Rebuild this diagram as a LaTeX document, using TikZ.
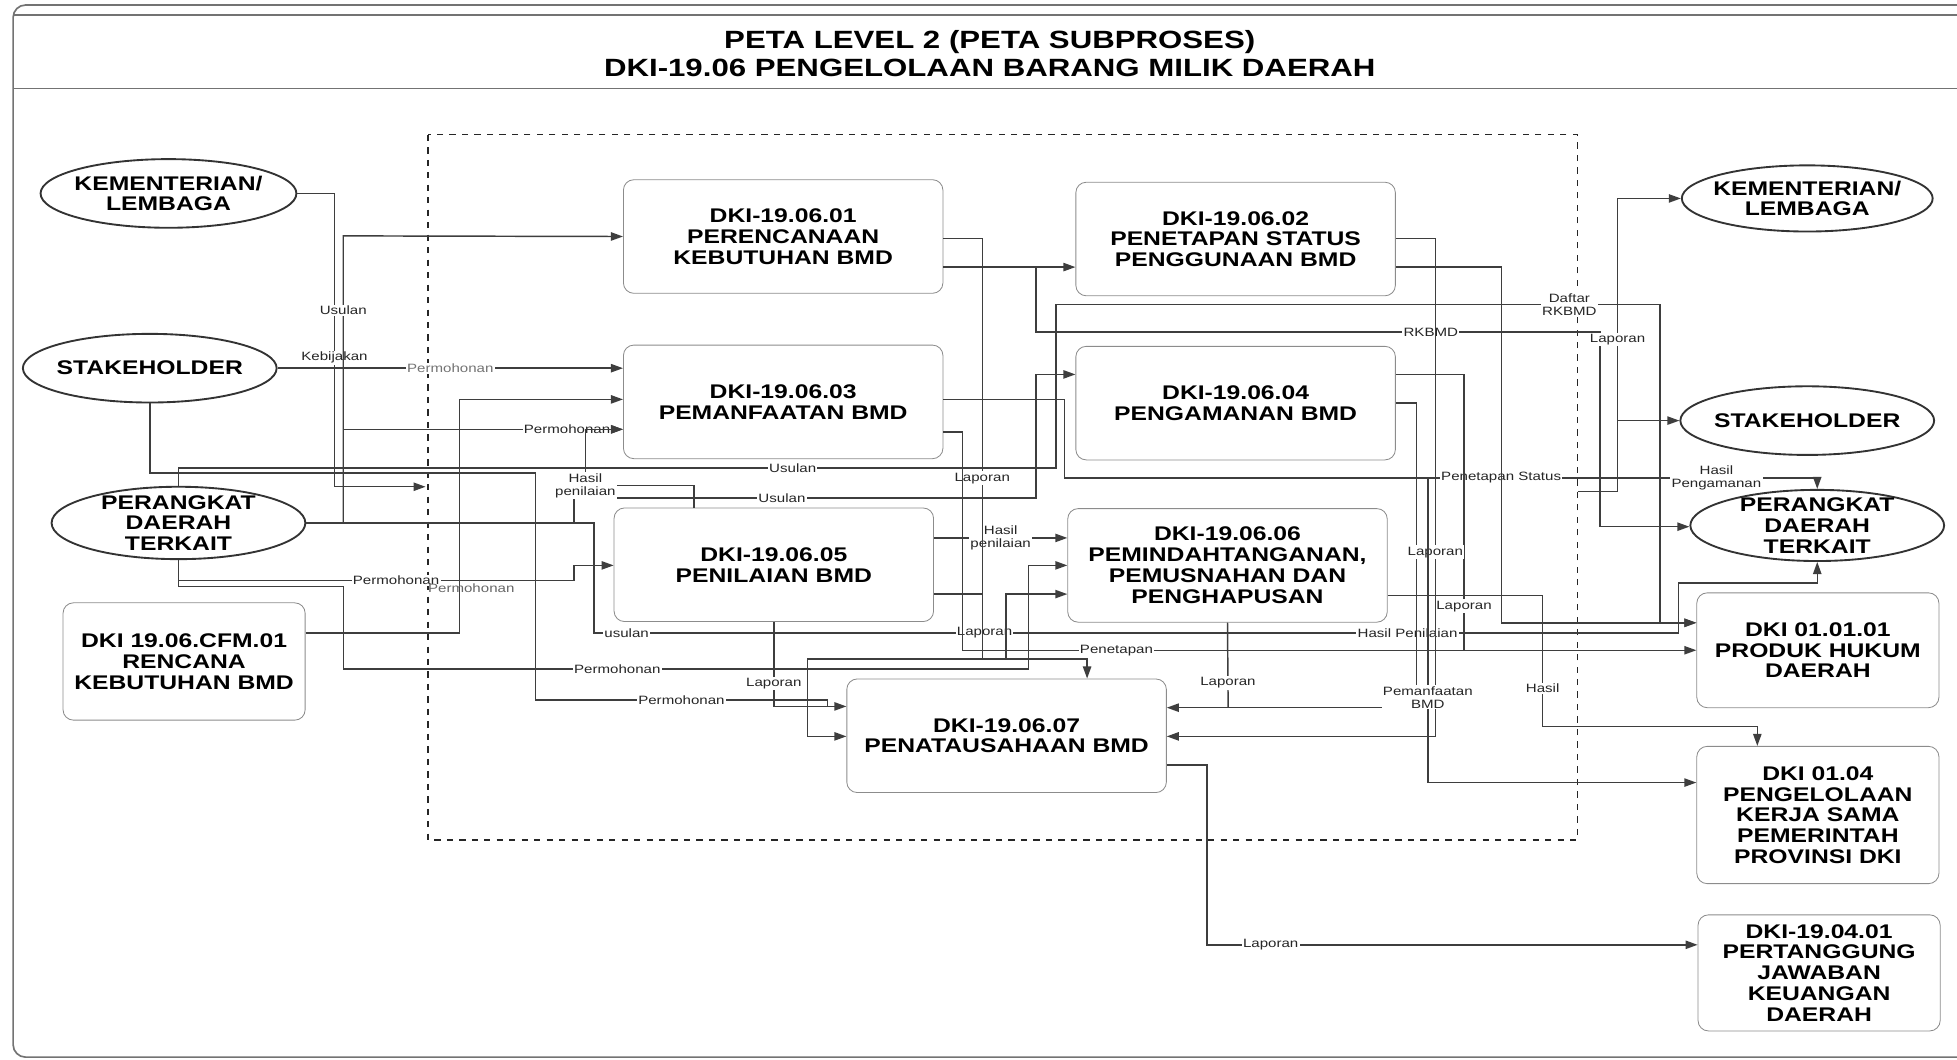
\documentclass[tikz,border=0pt]{standalone}
\usepackage{fontspec}
\setmainfont[FakeStretch=1.25]{Liberation Sans}
\usetikzlibrary{arrows.meta,shapes.geometric,positioning}
\definecolor{garis}{RGB}{62,62,62}
\definecolor{bingkai}{RGB}{115,115,115}

\begin{document}
\begin{tikzpicture}[x=0.6pt,y=-0.6pt,
  proses/.style={draw=black!45,rounded corners=5pt,minimum width=153.6pt,minimum height=54.6pt,align=center,font=\fontsize{9.5}{10}\selectfont\bfseries,inner sep=1pt},
  luar/.style={proses,minimum width=116.4pt,minimum height=55.2pt},
  mitra/.style={draw=black!80,line width=0.9pt,ellipse,minimum width=122pt,minimum height=33pt,inner sep=0pt},
  teks/.style={align=center,font=\fontsize{9.5}{10}\selectfont\bfseries},
  alur/.style={draw=garis,line width=0.7pt,-{Triangle[length=5.8pt,width=4pt]}},
  kabel/.style={draw=garis,line width=0.7pt},
  ket/.style={fill=white,inner sep=0.6pt,align=center,font=\fontsize{5.8}{6.2}\selectfont,text=black!85}]

\useasboundingbox (0,0) rectangle (1568,849);

% bingkai dan judul
\draw[bingkai,line width=0.8pt,rounded corners=6pt] (10.5,4) rectangle (1590,847);
\draw[bingkai,line width=0.6pt] (10.5,12) -- (1568,12);
\draw[bingkai,line width=0.8pt] (10.5,71) -- (1568,71);
\node[font=\fontsize{12}{13.2}\selectfont\bfseries,align=center] (judul) at (793,43) {PETA LEVEL 2 (PETA SUBPROSES)\\DKI-19.06 PENGELOLAAN BARANG MILIK DAERAH};
\draw[dashed,black!85,line width=0.6pt] (343,108) rectangle (1264,673);

% subproses
\node[proses] (b01) at (627.5,189.5) {DKI-19.06.01\\PERENCANAAN\\KEBUTUHAN BMD};
\node[proses] (b02) at (990,191.5) {DKI-19.06.02\\PENETAPAN STATUS\\PENGGUNAAN BMD};
\node[proses] (b03) at (627.5,322) {DKI-19.06.03\\PEMANFAATAN BMD};
\node[proses] (b04) at (990,323) {DKI-19.06.04\\PENGAMANAN BMD};
\node[proses] (b05) at (620,452.5) {DKI-19.06.05\\PENILAIAN BMD};
\node[proses] (b06) at (983.5,453) {DKI-19.06.06\\PEMINDAHTANGANAN,\\PEMUSNAHAN DAN\\PENGHAPUSAN};
\node[proses] (b07) at (806.5,589.5) {DKI-19.06.07\\PENATAUSAHAAN BMD};

% pihak luar
\node[mitra,minimum width=123pt,label={[teks]center:{KEMENTERIAN/\\LEMBAGA}}] (klL) at (135,155) {};
\node[mitra,label={[teks]center:{STAKEHOLDER}}] (shL) at (120,295) {};
\node[mitra,minimum height=34.8pt,label={[teks]center:{PERANGKAT\\DAERAH\\TERKAIT}}] (pdL) at (143,419) {};
\node[luar,minimum height=56.4pt] (cfm) at (147.5,530) {DKI 19.06.CFM.01\\RENCANA\\KEBUTUHAN BMD};
\node[mitra,minimum width=120.6pt,minimum height=31.8pt,label={[teks]center:{KEMENTERIAN/\\LEMBAGA}}] (klR) at (1448,159) {};
\node[mitra,label={[teks]center:{STAKEHOLDER}}] (shR) at (1448,337) {};
\node[mitra,minimum height=34.2pt,label={[teks]center:{PERANGKAT\\DAERAH\\TERKAIT}}] (pdR) at (1456,421) {};
\node[luar] (hukum) at (1456.5,521) {DKI 01.01.01\\PRODUK HUKUM\\DAERAH};
\node[luar,minimum height=66pt] (kerja) at (1456.5,653) {DKI 01.04\\PENGELOLAAN\\KERJA SAMA\\PEMERINTAH\\PROVINSI DKI};
\node[luar,minimum height=55.8pt] (tjawab) at (1457.5,779.5) {DKI-19.04.01\\PERTANGGUNG\\JAWABAN\\KEUANGAN\\DAERAH};

\coordinate (masuk) at (341,390);
\coordinate (keluar) at (1264,394);

% alur sisi kiri
\draw[alur] (klL.east) -| node[ket,pos=.78]{Kebijakan} (268,390) -- (masuk);
\draw[alur] (pdL.east) -| node[ket,pos=.87]{Usulan} (275,189) -- (b01.west);
\draw[alur] (275,344) -- node[ket,pos=.8]{Permohonan} (b03.west |- 0,344);
\draw[alur] (shL.east) -- node[ket,text=black!55]{Permohonan} (b03.west |- shL.east);
\draw[alur] (cfm.east |- 0,507) -| (368,320) -- (b03.west |- 0,320);
\draw[alur] (shL.south) |- (429,379) -- (429,561) -- node[ket]{Permohonan} (663,561) -- (663,566) -- (b07.west |- 0,566);
\draw[alur] (pdL.north) |- node[ket,pos=.85]{Usulan} (846,375) |- node[ket,pos=.925]{Daftar\\RKBMD} (1330,244) |- (hukum.west |- 0,499);
\draw[alur] (pdL.east) -- (476,419) -- (476,507) -- node[ket,pos=.03]{usulan} node[ket,pos=.36]{Laporan} node[ket,pos=.75]{Hasil Penilaian} (1345,507) -- (1345,467) -- (1456,467) -- (pdR.south);
\draw[alur] (460,419) -- (460,399) -- node[ket,pos=.45]{Usulan} (830,399) -- (830,300) -- (b04.west |- 0,300);
\draw[alur] (pdL.south) -- (143,465) -- node[ket,pos=.55]{Permohonan} node[ket,pos=.74,below=0.5pt,fill=none,text=black!60]{Permohonan} (460,465) -- (460,453) -- (b05.west |- 0,453);
\draw[alur] (pdL.south) -- (143,470) -- (275,470) -- (275,536) -- node[ket,pos=.4]{Permohonan} (824,536) -- (824,453) -- (b06.west |- 0,453);
\draw[alur] (b05.north -| 556,0) -- (556,389) -- node[ket,pos=1]{Hasil\\penilaian} (469,389) -- (469,344) -- (b03.west |- 0,344);

% alur antar subproses
\draw[alur] (b05.east |- 0,431) -- node[ket]{Hasil\\penilaian} (b06.west |- 0,431);
\draw[kabel] (b05.south) -- node[ket,pos=.73]{Laporan} (620,566) -- (663,566);
\draw[alur] (b01.east |- 0,191) -- (787,191) -- node[ket,pos=.57]{Laporan} (787,528) -- (871,528) -- (b07.north -| 871,0);
\draw[kabel] (b05.east |- 0,476) -- (787,476);
\draw[alur] (b01.east |- 0,214) -- (b02.west |- 0,214);
\draw[alur] (830,214) -- (830,266) -- node[ket,pos=.7]{RKBMD} (1282,266) -- (1282,422) -- (pdR.west |- 0,422);
\draw[alur] (b03.east |- 0,320) -- (853,320) -- (853,383) -- node[ket,pos=.58]{Penetapan Status} node[ket,pos=.866]{Hasil\\Pengamanan} (pdR.north |- 0,383) -- (pdR.north);
\draw[alur] (b03.east |- 0,346) -- (771,346) -- (771,521) -- node[ket,pos=.21]{Penetapan} (hukum.west |- 0,521);
\draw[kabel] (b04.east |- 0,300) -- (1173,300) -- node[ket,pos=.84]{Laporan} (1173,521);
\draw[alur] (b04.east |- 0,323) -- (1135,323) -- (1135,567) -- (b07.east |- 0,567);
\draw[alur] (b02.east |- 0,191) -- (1150,191) -- node[ket,pos=.63]{Laporan} (1150,590) -- (b07.east |- 0,590);
\draw[alur] (b02.east |- 0,214) -- (1203,214) -- (1203,499) -- (hukum.west |- 0,499);
\draw[alur] (1144,383) -- node[ket,pos=.72]{Pemanfaatan\\BMD} (1144,627) -- (kerja.west |- 0,627);
\draw[alur] (b06.east |- 0,477) -- (1236,477) -- node[ket,pos=.71]{Hasil} (1236,582) -- (1408,582) -- (kerja.north -| 1408,0);
\draw[kabel] (b06.south) -- node[ket,pos=.71]{Laporan} (984,567);
\draw[alur] (806,528) -- (806,476) -- (b06.west |- 0,476);
\draw[alur] (787,528) -- (647,528) -- (647,590) -- (b07.west |- 0,590);
\draw[alur] (b07.east |- 0,613) -- (967,613) -- (967,757) -- node[ket,pos=.13]{Laporan} (tjawab.west |- 0,757);

% alur sisi kanan
\draw[alur] (keluar) -- (1296,394) -- node[ket,pos=.52]{Laporan} (1296,159) -- (klR.west);
\draw[alur] (1296,337) -- (shR.west |- 0,337);
\end{tikzpicture}
\end{document}
